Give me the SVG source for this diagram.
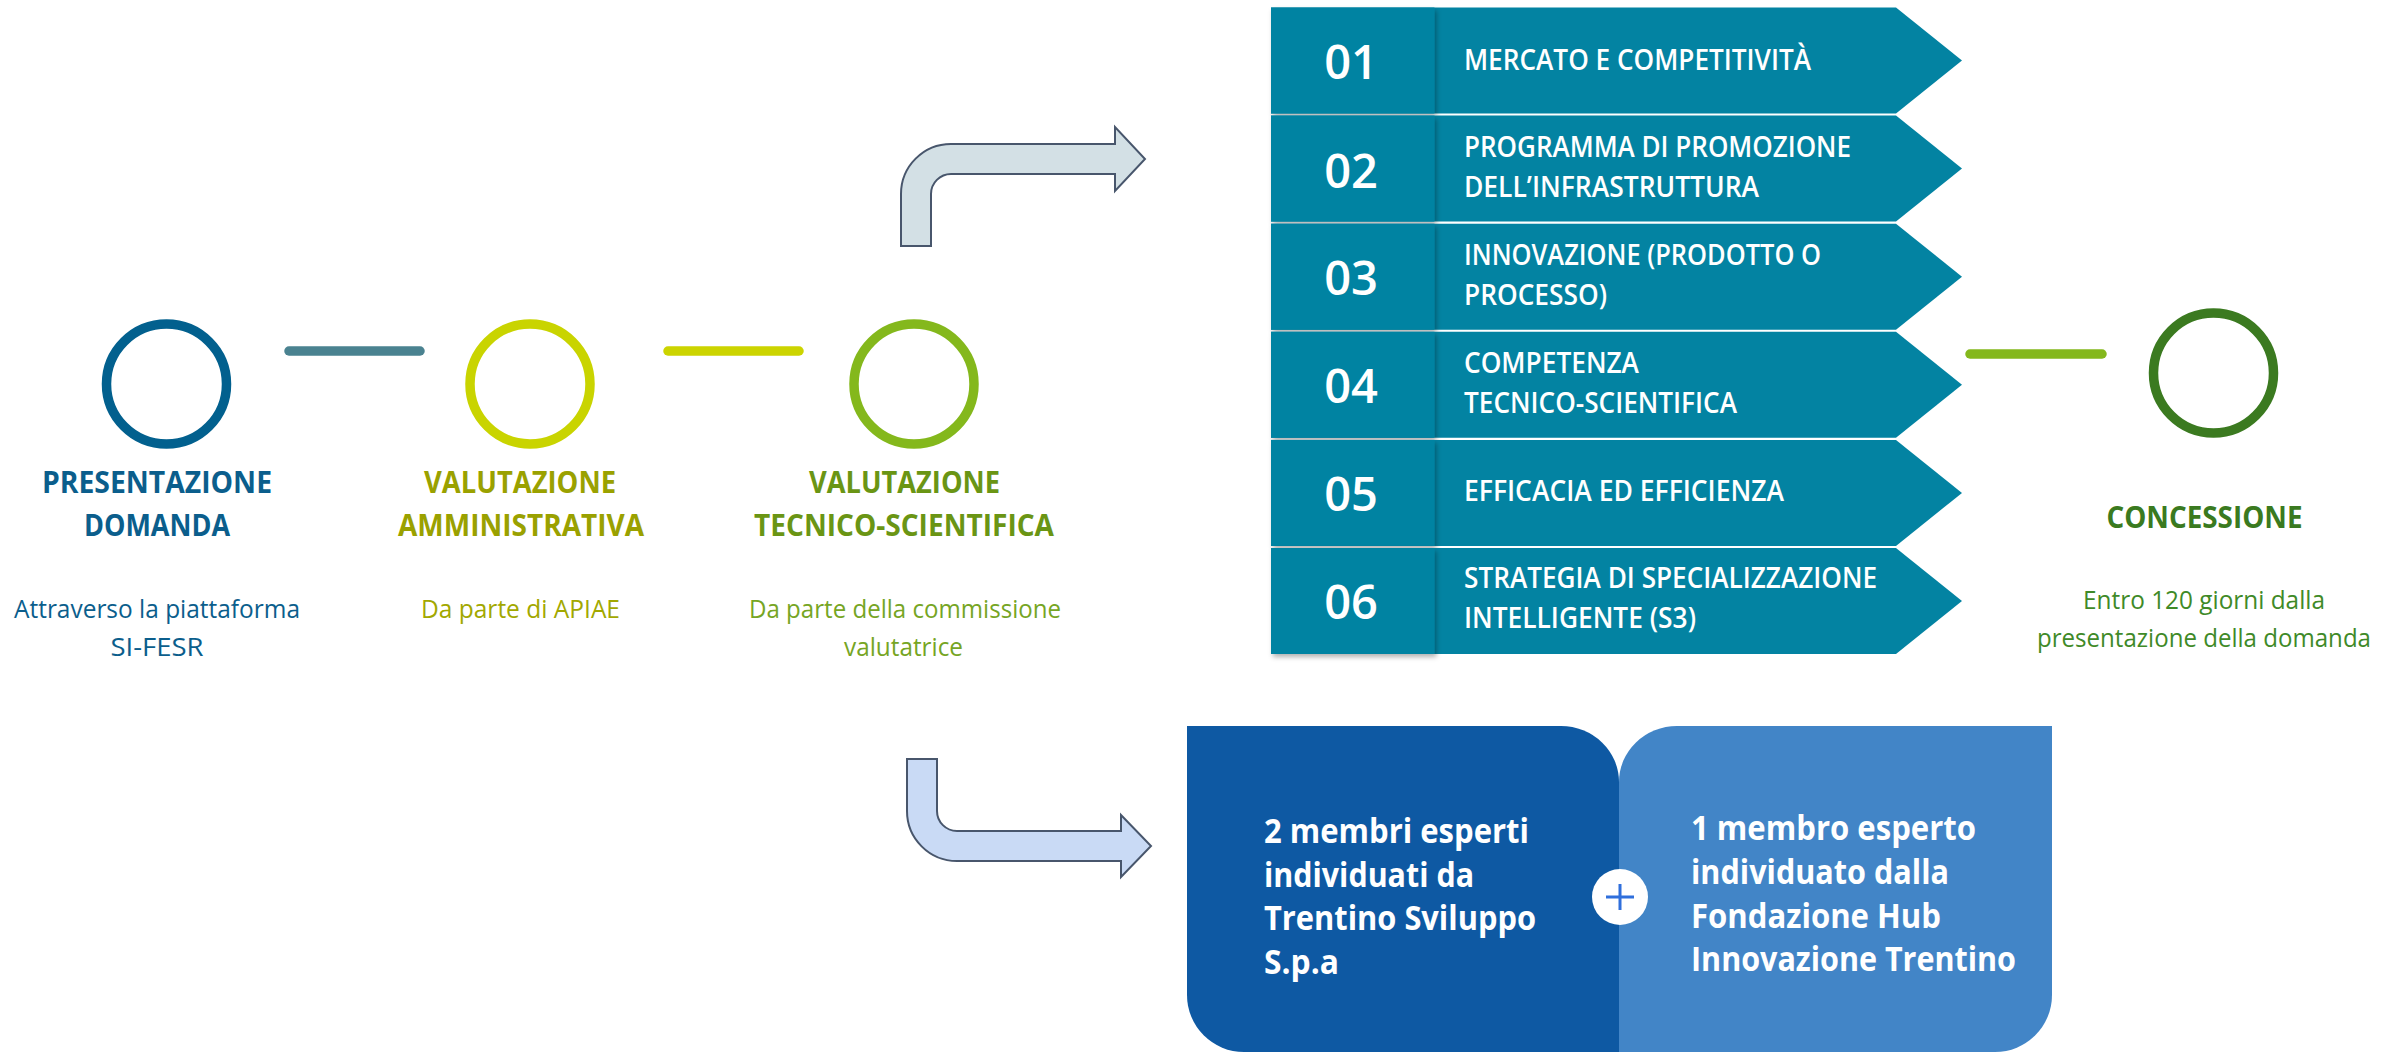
<svg xmlns="http://www.w3.org/2000/svg" width="2400" height="1052" viewBox="0 0 2400 1052">
<defs>
<filter id="sh" x="-10%" y="-10%" width="130%" height="130%">
<feDropShadow dx="2" dy="3" stdDeviation="2.5" flood-color="#000" flood-opacity="0.3"/>
</filter>
<style>
text{font-family:"Open Sans","Liberation Sans",sans-serif}
.ring{fill:none;stroke-width:9.5}
.bar{stroke-width:9.5;stroke-linecap:round}
.chev{fill:#0383a2}
.num{fill:#0383a2;filter:url(#sh)}
.nt{fill:#fff;font-size:47px;font-weight:600;text-anchor:middle}
.lt{fill:#fff;font-size:28px;font-weight:600}
.title{font-size:30px;font-weight:700;text-anchor:middle}
.body{font-size:25px;font-weight:400;text-anchor:middle}
.bt{fill:#fff;font-size:34px;font-weight:700}
.arr{stroke:#48566c;stroke-width:2;stroke-linejoin:miter}
</style>
</defs>
<rect width="2400" height="1052" fill="#fff"/>

<g id="connectors">
<line class="bar" x1="289" y1="351" x2="420" y2="351" stroke="#4a8290"/>
<line class="bar" x1="668" y1="351" x2="799" y2="351" stroke="#ccd400"/>
<line class="bar" x1="1970" y1="354" x2="2102" y2="354" stroke="#84b81c"/>
<path class="arr" fill="#d3e0e5" d="M901,246 L901,194 A50,50 0 0 1 951,144 L1115,144 L1115,127 L1145,159 L1115,191 L1115,174 L951,174 A20,20 0 0 0 931,194 L931,246 Z"/>
<path class="arr" fill="#c9daf5" d="M907,759 L937,759 L937,811 A20,20 0 0 0 957,831 L1121,831 L1121,815 L1151,846 L1121,877 L1121,861 L957,861 A50,50 0 0 1 907,811 Z"/>
</g>

<g id="step-presentazione">
<circle class="ring" cx="166.5" cy="384" r="60" stroke="#02608e"/>
<text class="title" x="157" y="493" fill="#0b5e8c" textLength="230" lengthAdjust="spacingAndGlyphs">PRESENTAZIONE</text>
<text class="title" x="157" y="536" fill="#0b5e8c" textLength="146" lengthAdjust="spacingAndGlyphs">DOMANDA</text>
<text class="body" x="157" y="618" fill="#0b5e8c" textLength="286" lengthAdjust="spacingAndGlyphs">Attraverso la piattaforma</text>
<text class="body" x="157" y="656" fill="#0b5e8c" textLength="93" lengthAdjust="spacingAndGlyphs">SI-FESR</text>
</g>

<g id="step-amministrativa">
<circle class="ring" cx="530" cy="384" r="60" stroke="#c9d400"/>
<text class="title" x="520" y="493" fill="#9aa100" textLength="192" lengthAdjust="spacingAndGlyphs">VALUTAZIONE</text>
<text class="title" x="521" y="536" fill="#9aa100" textLength="246" lengthAdjust="spacingAndGlyphs">AMMINISTRATIVA</text>
<text class="body" x="520.5" y="618" fill="#a2a800" textLength="199" lengthAdjust="spacingAndGlyphs">Da parte di APIAE</text>
</g>

<g id="step-tecnico">
<circle class="ring" cx="914" cy="384" r="60" stroke="#84b81c"/>
<text class="title" x="904.5" y="493" fill="#6a9514" textLength="191" lengthAdjust="spacingAndGlyphs">VALUTAZIONE</text>
<text class="title" x="904" y="536" fill="#6a9514" textLength="300" lengthAdjust="spacingAndGlyphs">TECNICO-SCIENTIFICA</text>
<text class="body" x="905" y="618" fill="#76a524" textLength="312" lengthAdjust="spacingAndGlyphs">Da parte della commissione</text>
<text class="body" x="903.5" y="656" fill="#76a524" textLength="119" lengthAdjust="spacingAndGlyphs">valutatrice</text>
</g>

<g id="step-concessione">
<circle class="ring" cx="2213.5" cy="373" r="60" stroke="#3b7a20"/>
<text class="title" x="2204.5" y="528" fill="#3a7a20" font-size="31" textLength="196" lengthAdjust="spacingAndGlyphs">CONCESSIONE</text>
<text class="body" x="2204" y="609" fill="#3f8a28" font-size="26" textLength="242" lengthAdjust="spacingAndGlyphs">Entro 120 giorni dalla</text>
<text class="body" x="2204" y="647" fill="#3f8a28" font-size="26" textLength="334" lengthAdjust="spacingAndGlyphs">presentazione della domanda</text>
</g>

<g id="criterio-01">
<path class="chev" d="M1271,7.5 H1896 L1962,60.5 L1896,113.5 H1271 Z"/>
<rect class="num" x="1271" y="7.5" width="163.5" height="106"/>
<text class="nt" x="1351" y="79">01</text>
<text class="lt" x="1464" y="69.5" textLength="347" lengthAdjust="spacingAndGlyphs">MERCATO E COMPETITIVITÀ</text>
</g>

<g id="criterio-02">
<path class="chev" d="M1271,115.6 H1896 L1962,168.6 L1896,221.6 H1271 Z"/>
<rect class="num" x="1271" y="115.6" width="163.5" height="106"/>
<text class="nt" x="1351" y="187.5">02</text>
<text class="lt" x="1464" y="156.7" textLength="387" lengthAdjust="spacingAndGlyphs">PROGRAMMA DI PROMOZIONE</text>
<text class="lt" x="1464" y="196.7" textLength="295" lengthAdjust="spacingAndGlyphs">DELL’INFRASTRUTTURA</text>
</g>

<g id="criterio-03">
<path class="chev" d="M1271,223.7 H1896 L1962,276.7 L1896,329.7 H1271 Z"/>
<rect class="num" x="1271" y="223.7" width="163.5" height="106"/>
<text class="nt" x="1351" y="295">03</text>
<text class="lt" x="1464" y="265" textLength="357" lengthAdjust="spacingAndGlyphs">INNOVAZIONE (PRODOTTO O</text>
<text class="lt" x="1464" y="305" textLength="143" lengthAdjust="spacingAndGlyphs">PROCESSO)</text>
</g>

<g id="criterio-04">
<path class="chev" d="M1271,331.8 H1896 L1962,384.8 L1896,437.8 H1271 Z"/>
<rect class="num" x="1271" y="331.8" width="163.5" height="106"/>
<text class="nt" x="1351" y="403">04</text>
<text class="lt" x="1464" y="372.7" textLength="175" lengthAdjust="spacingAndGlyphs">COMPETENZA</text>
<text class="lt" x="1464" y="412.7" textLength="273" lengthAdjust="spacingAndGlyphs">TECNICO-SCIENTIFICA</text>
</g>

<g id="criterio-05">
<path class="chev" d="M1271,439.9 H1896 L1962,492.9 L1896,545.9 H1271 Z"/>
<rect class="num" x="1271" y="439.9" width="163.5" height="106"/>
<text class="nt" x="1351" y="511">05</text>
<text class="lt" x="1464" y="501" textLength="320" lengthAdjust="spacingAndGlyphs">EFFICACIA ED EFFICIENZA</text>
</g>

<g id="criterio-06">
<path class="chev" d="M1271,548 H1896 L1962,601 L1896,654 H1271 Z"/>
<rect class="num" x="1271" y="548" width="163.5" height="106"/>
<text class="nt" x="1351" y="618.5">06</text>
<text class="lt" x="1464" y="588.3" textLength="413" lengthAdjust="spacingAndGlyphs">STRATEGIA DI SPECIALIZZAZIONE</text>
<text class="lt" x="1464" y="628.3" textLength="232" lengthAdjust="spacingAndGlyphs">INTELLIGENTE (S3)</text>
</g>

<g id="membri-trentino-sviluppo">
<path fill="#0e59a3" d="M1187,726 L1561,726 A58,56 0 0 1 1619,782 L1619,1052 L1244,1052 A57,57 0 0 1 1187,995 Z"/>
<text class="bt" x="1264" y="843" textLength="265" lengthAdjust="spacingAndGlyphs">2 membri esperti</text>
<text class="bt" x="1264" y="887" textLength="210" lengthAdjust="spacingAndGlyphs">individuati da</text>
<text class="bt" x="1264" y="930" textLength="272" lengthAdjust="spacingAndGlyphs">Trentino Sviluppo</text>
<text class="bt" x="1264" y="974" textLength="75" lengthAdjust="spacingAndGlyphs">S.p.a</text>
</g>

<g id="membro-fondazione-hub">
<path fill="#4285c7" d="M1619,782 A58,56 0 0 1 1677,726 L2052,726 L2052,995 A57,57 0 0 1 1995,1052 L1619,1052 Z"/>
<text class="bt" x="1691" y="839.5" textLength="285" lengthAdjust="spacingAndGlyphs">1 membro esperto</text>
<text class="bt" x="1691" y="883.5" textLength="258" lengthAdjust="spacingAndGlyphs">individuato dalla</text>
<text class="bt" x="1691" y="927.5" textLength="250" lengthAdjust="spacingAndGlyphs">Fondazione Hub</text>
<text class="bt" x="1691" y="971" textLength="325" lengthAdjust="spacingAndGlyphs">Innovazione Trentino</text>
</g>

<g id="plus">
<circle cx="1620" cy="897" r="28" fill="#fff"/>
<path d="M1606,897 H1634 M1620,884 V910" stroke="#2f6fdc" stroke-width="3" fill="none"/>
</g>
</svg>
